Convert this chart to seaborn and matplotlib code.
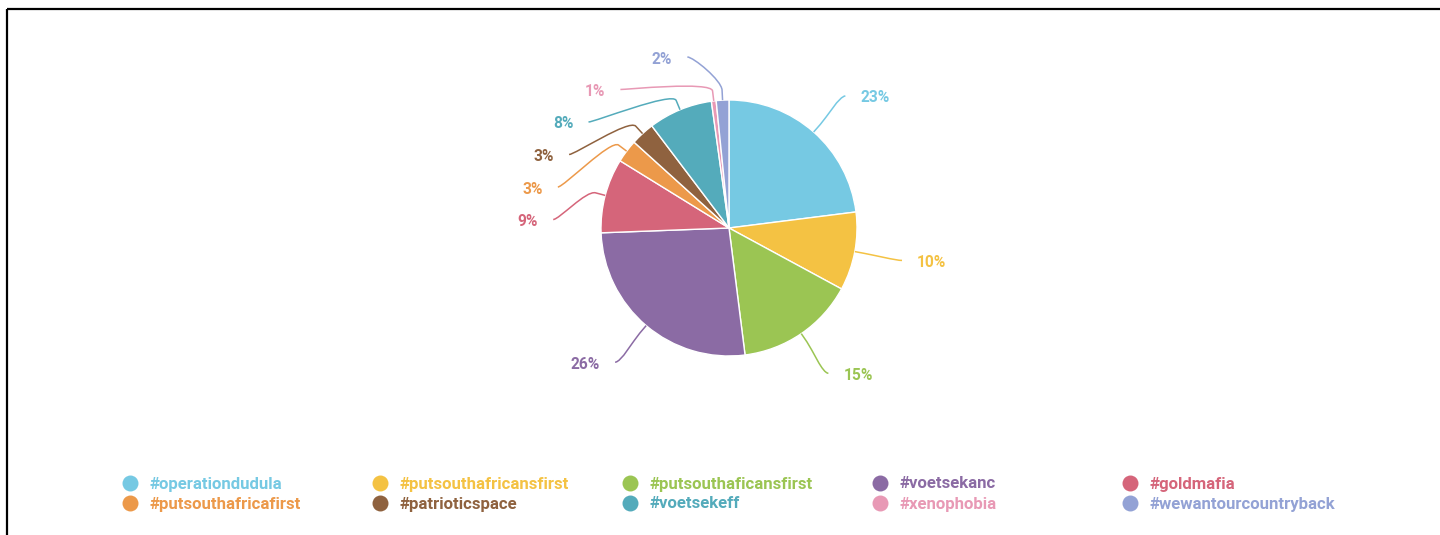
import numpy as np
import matplotlib
matplotlib.use("Agg")
import matplotlib.pyplot as plt
import seaborn as sns
from matplotlib.path import Path
from matplotlib.patches import PathPatch

# ---- data ----
categories = ["#operationdudula", "#putsouthafricansfirst", "#putsouthaficansfirst",
              "#voetsekanc", "#goldmafia", "#putsouthafricafirst", "#patrioticspace",
              "#voetsekeff", "#xenophobia", "#wewantourcountryback"]
shares = [23.0, 9.9, 15.1, 26.4, 9.4, 2.9, 3.0, 8.1, 0.6, 1.6]
colors = ["#76C9E3", "#F4C243", "#9BC553", "#8B6BA4", "#D5657A",
          "#EC994A", "#8F623F", "#54ABBB", "#E899B5", "#93A2D5"]

sns.set_theme(style="white")
plt.rcParams['font.family'] = ['Roboto', 'DejaVu Sans']

W, H = 1440, 535
fig = plt.figure(figsize=(W / 100, H / 100), dpi=100)
fig.patch.set_facecolor("white")
ax = fig.add_axes([0, 0, 1, 1])

cx, cy, R = 729, 307, 128
palette = sns.color_palette(colors)
wedges, _ = ax.pie(shares, colors=palette, startangle=90, counterclock=False,
                   center=(cx, cy), radius=R,
                   wedgeprops=dict(edgecolor="white", linewidth=1))
ax.set_xlim(0, W)
ax.set_ylim(0, H)
ax.set_aspect("auto")
ax.axis("off")

# ---- data labels with soft connectors ----
total = sum(shares)
L = 176        # label radius
brk = 10       # connector break distance beyond the edge
gap = 15       # gap between connector end and text
spacing = 32.5
ytop = H - 57

info = []
for w, s, c in zip(wedges, shares, colors):
    mid = np.deg2rad((w.theta1 + w.theta2) / 2)
    side = 1 if np.cos(mid) >= 0 else -1
    info.append(dict(mid=mid, side=side, y=cy + L * np.sin(mid),
                     p=100 * s / total, c=c))

for side in (1, -1):
    items = sorted([d for d in info if d["side"] == side], key=lambda d: -d["y"])
    prev = None
    for d in items:
        y = min(d["y"], ytop)
        if prev is not None:
            y = min(y, prev - spacing)
        d["y"] = y
        prev = y

for d in info:
    mid, side, y, c = d["mid"], d["side"], d["y"], d["c"]
    dy = y - cy
    x = cx + side * np.sqrt(max(L ** 2 - dy ** 2, 0))
    T = np.array([cx + R * np.cos(mid), cy + R * np.sin(mid)])
    B = np.array([cx + (R + brk) * np.cos(mid), cy + (R + brk) * np.sin(mid)])
    C2 = 2 * B - T
    C1 = np.array([x - side * 6, y])
    S = np.array([x, y])
    path = Path([S, C1, C2, B, T],
                [Path.MOVETO, Path.CURVE4, Path.CURVE4, Path.CURVE4, Path.LINETO])
    ax.add_patch(PathPatch(path, facecolor="none", edgecolor=c, lw=1.1))
    ax.text(x + side * gap, y - 2, f"{d['p']:.0f}%", ha="left" if side > 0 else "right",
            va="center", color=c, fontsize=11.2, fontweight="bold")

# ---- legend (5 columns, row-major) ----
for i, (name, c) in enumerate(zip(categories, colors)):
    row, col = divmod(i, 5)
    xm = 130 + col * 250
    ym = H - (483 + row * 20)
    ax.plot([xm], [ym], "o", ms=11.5, color=c, mec="none")
    ax.text(xm + 20, ym - 1, name, color=c, fontsize=12.1, fontweight="bold",
            va="center", ha="left")

# ---- frame lines (top and left) ----
ax.plot([7, 7], [0, H - 9], color="black", lw=1.6, solid_capstyle="butt")
ax.plot([7, W], [H - 9, H - 9], color="black", lw=1.6, solid_capstyle="butt")

fig.savefig("out.png", dpi=100, facecolor="white")
